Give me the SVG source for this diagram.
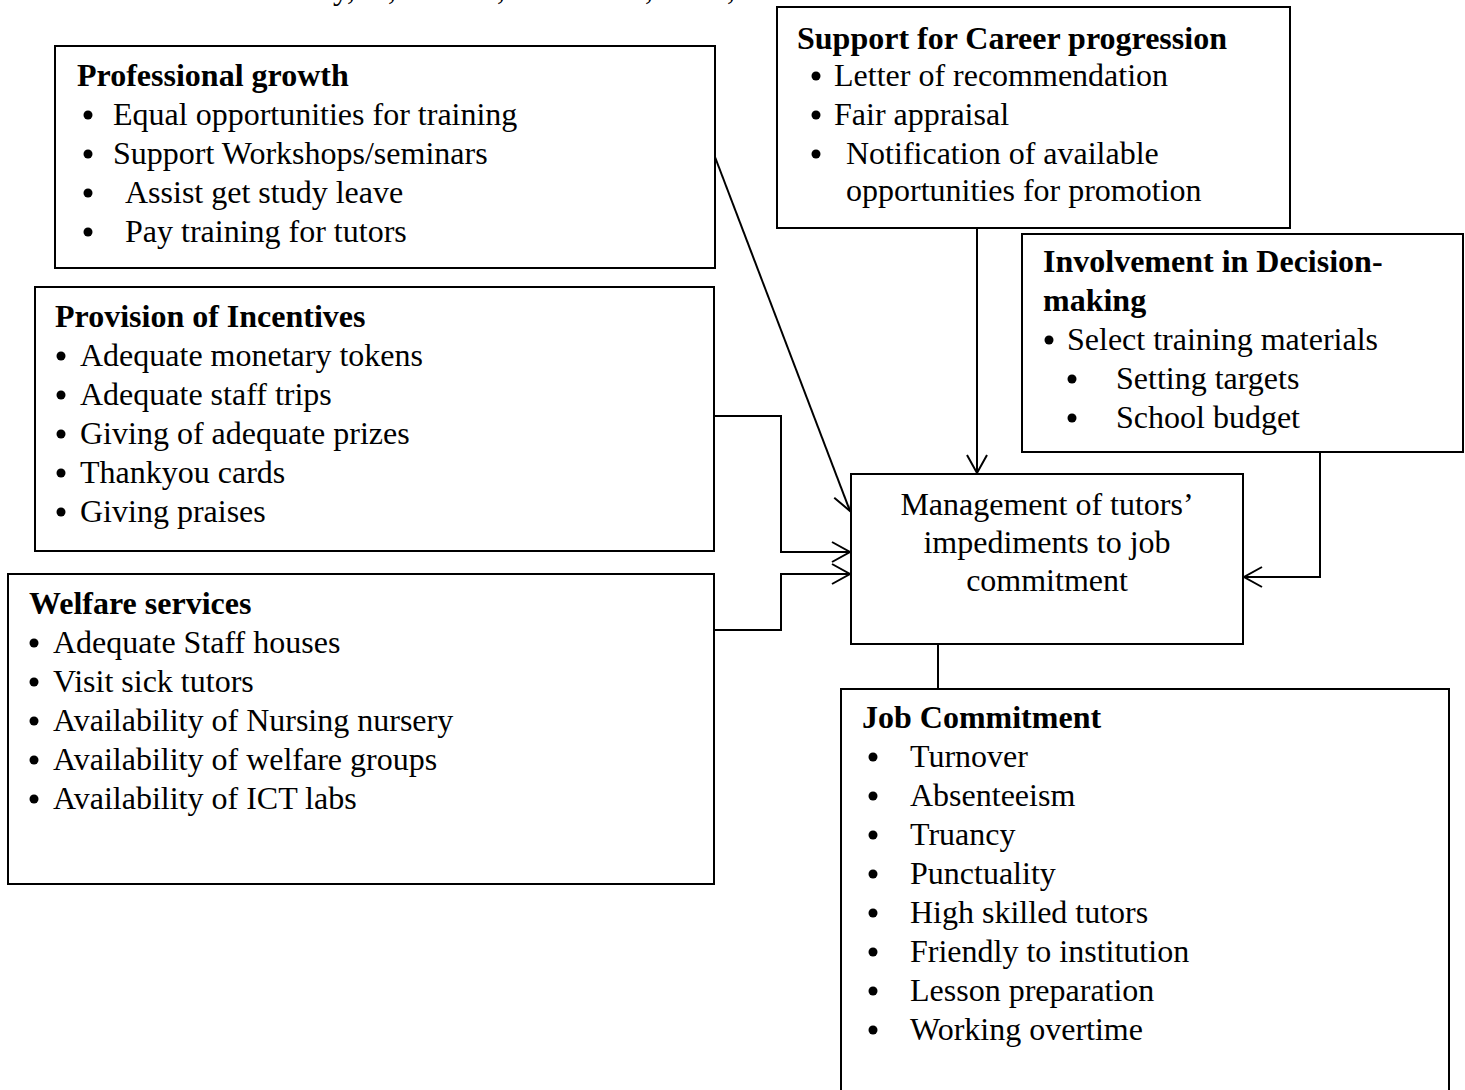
<svg xmlns="http://www.w3.org/2000/svg" width="1465" height="1090" viewBox="0 0 1465 1090">
<style>
  .box { fill: #ffffff; stroke: #000000; stroke-width: 2; }
  .t { font-family: "Liberation Serif", "Times New Roman", serif; font-size: 32px; fill: #000000; }
  .h { font-family: "Liberation Serif", "Times New Roman", serif; font-size: 32px; font-weight: bold; fill: #000000; }
  .c { text-anchor: middle; }
  .dot { fill: #000000; }
  .conn { fill: none; stroke: #000000; stroke-width: 2; }
</style>
<defs>
  <marker id="arrow" markerUnits="userSpaceOnUse" markerWidth="24" markerHeight="24" viewBox="-20 -12 22 24" refX="0" refY="0" orient="auto">
    <path d="M-18,-10 L0,0 L-18,10" fill="none" stroke="#000000" stroke-width="2"/>
  </marker>
</defs>
<rect x="0" y="0" width="1465" height="1090" fill="#ffffff"/>

<g id="clipped-header">
  <text class="t" x="333" y="-1">y,</text>
  <text class="t" x="388" y="-1">,</text>
  <text class="t" x="497" y="-1">,</text>
  <text class="t" x="645" y="-1">,</text>
  <text class="t" x="727" y="-1">,</text>
</g>

<g id="connectors">
  <line class="conn" x1="715" y1="157" x2="850" y2="511" marker-end="url(#arrow)"/>
  <polyline class="conn" points="714,416 781,416 781,552 850,552" marker-end="url(#arrow)"/>
  <polyline class="conn" points="714,630 781,630 781,574 850,574" marker-end="url(#arrow)"/>
  <line class="conn" x1="977" y1="228" x2="977" y2="473" marker-end="url(#arrow)"/>
  <polyline class="conn" points="1320,452 1320,577 1244,577" marker-end="url(#arrow)"/>
  <line class="conn" x1="938" y1="644" x2="938" y2="689"/>
</g>

<g id="professional-growth">
  <rect class="box" x="55" y="46" width="660" height="222"/>
  <text class="h" x="77" y="86">Professional growth</text>
  <circle class="dot" cx="88" cy="115" r="4.5"/><text class="t" x="113" y="125">Equal opportunities for training</text>
  <circle class="dot" cx="88" cy="154" r="4.5"/><text class="t" x="113" y="164">Support Workshops/seminars</text>
  <circle class="dot" cx="88" cy="193" r="4.5"/><text class="t" x="125" y="203">Assist get study leave</text>
  <circle class="dot" cx="88" cy="232" r="4.5"/><text class="t" x="125" y="242">Pay training for tutors</text>
</g>

<g id="provision-of-incentives">
  <rect class="box" x="35" y="287" width="679" height="264"/>
  <text class="h" x="55" y="327">Provision of Incentives</text>
  <circle class="dot" cx="61" cy="356" r="4.5"/><text class="t" x="80" y="366">Adequate monetary tokens</text>
  <circle class="dot" cx="61" cy="395" r="4.5"/><text class="t" x="80" y="405">Adequate staff trips</text>
  <circle class="dot" cx="61" cy="434" r="4.5"/><text class="t" x="80" y="444">Giving of adequate prizes</text>
  <circle class="dot" cx="61" cy="473" r="4.5"/><text class="t" x="80" y="483">Thankyou cards</text>
  <circle class="dot" cx="61" cy="512" r="4.5"/><text class="t" x="80" y="522">Giving praises</text>
</g>

<g id="welfare-services">
  <rect class="box" x="8" y="574" width="706" height="310"/>
  <text class="h" x="29" y="614">Welfare services</text>
  <circle class="dot" cx="34" cy="643" r="4.5"/><text class="t" x="53" y="653">Adequate Staff houses</text>
  <circle class="dot" cx="34" cy="682" r="4.5"/><text class="t" x="53" y="692">Visit sick tutors</text>
  <circle class="dot" cx="34" cy="721" r="4.5"/><text class="t" x="53" y="731">Availability of Nursing nursery</text>
  <circle class="dot" cx="34" cy="760" r="4.5"/><text class="t" x="53" y="770">Availability of welfare groups</text>
  <circle class="dot" cx="34" cy="799" r="4.5"/><text class="t" x="53" y="809">Availability of ICT labs</text>
</g>

<g id="career-progression">
  <rect class="box" x="777" y="7" width="513" height="221"/>
  <text class="h" x="797" y="49">Support for Career progression</text>
  <circle class="dot" cx="816" cy="76" r="4.5"/><text class="t" x="834" y="86">Letter of recommendation</text>
  <circle class="dot" cx="816" cy="115" r="4.5"/><text class="t" x="834" y="125">Fair appraisal</text>
  <circle class="dot" cx="816" cy="154" r="4.5"/><text class="t" x="846" y="164">Notification of available</text>
  <text class="t" x="846" y="201">opportunities for promotion</text>
</g>

<g id="decision-making">
  <rect class="box" x="1022" y="234" width="441" height="218"/>
  <text class="h" x="1043" y="272">Involvement in Decision-</text>
  <text class="h" x="1043" y="311">making</text>
  <circle class="dot" cx="1049" cy="340" r="4.5"/><text class="t" x="1067" y="350">Select training materials</text>
  <circle class="dot" cx="1072" cy="379" r="4.5"/><text class="t" x="1116" y="389">Setting targets</text>
  <circle class="dot" cx="1072" cy="418" r="4.5"/><text class="t" x="1116" y="428">School budget</text>
</g>

<g id="management">
  <rect class="box" x="851" y="474" width="392" height="170"/>
  <text class="t c" x="1047" y="515">Management of tutors’</text>
  <text class="t c" x="1047" y="553">impediments to job</text>
  <text class="t c" x="1047" y="591">commitment</text>
</g>

<g id="job-commitment">
  <rect class="box" x="841" y="689" width="608" height="420"/>
  <text class="h" x="862" y="728">Job Commitment</text>
  <circle class="dot" cx="873" cy="757" r="4.5"/><text class="t" x="910" y="767">Turnover</text>
  <circle class="dot" cx="873" cy="796" r="4.5"/><text class="t" x="910" y="806">Absenteeism</text>
  <circle class="dot" cx="873" cy="835" r="4.5"/><text class="t" x="910" y="845">Truancy</text>
  <circle class="dot" cx="873" cy="874" r="4.5"/><text class="t" x="910" y="884">Punctuality</text>
  <circle class="dot" cx="873" cy="913" r="4.5"/><text class="t" x="910" y="923">High skilled tutors</text>
  <circle class="dot" cx="873" cy="952" r="4.5"/><text class="t" x="910" y="962">Friendly to institution</text>
  <circle class="dot" cx="873" cy="991" r="4.5"/><text class="t" x="910" y="1001">Lesson preparation</text>
  <circle class="dot" cx="873" cy="1030" r="4.5"/><text class="t" x="910" y="1040">Working overtime</text>
</g>
</svg>
